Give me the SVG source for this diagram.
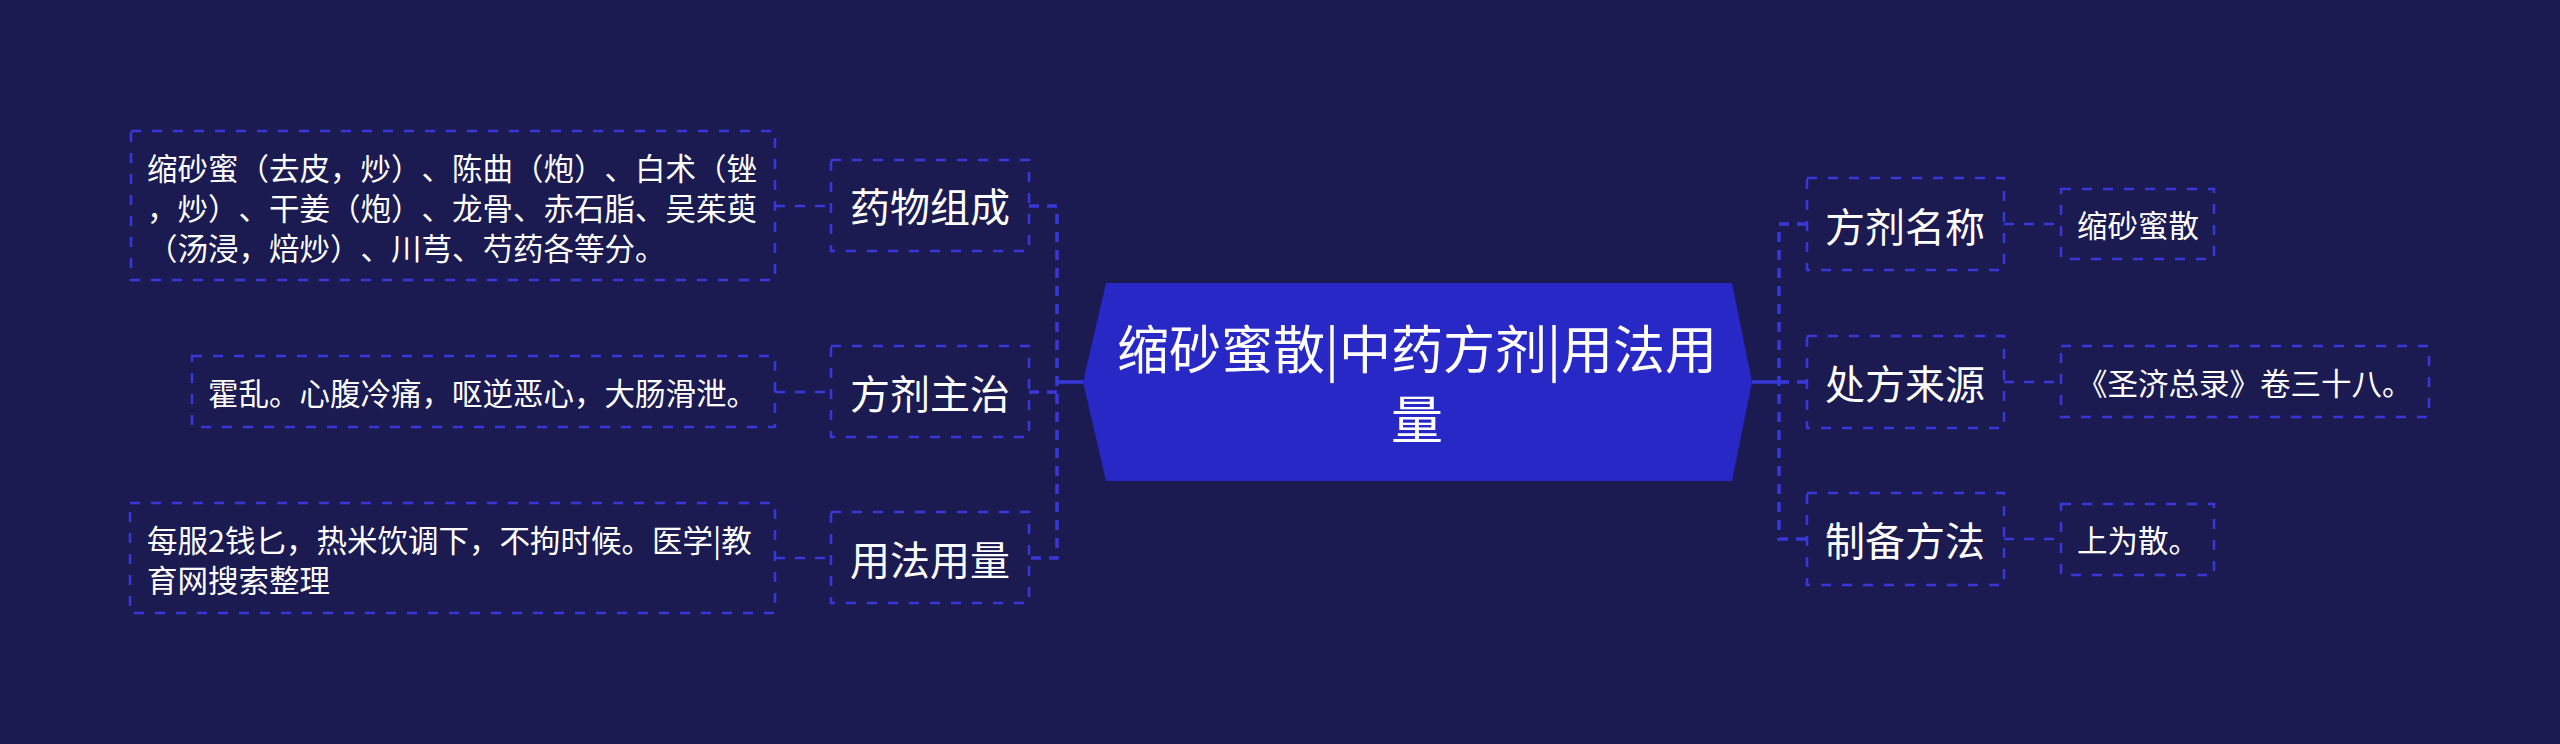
<svg xmlns="http://www.w3.org/2000/svg" width="2560" height="744" viewBox="0 0 2560 744">
<style>
.box{fill:none;stroke:#3838da;stroke-width:2.5;stroke-dasharray:10 11}
.t{fill:#ffffff;font-family:"Noto Sans CJK SC","Noto Sans",sans-serif;dominant-baseline:central;text-spacing-trim:space-all}
.leaf{font-size:30.5px}
.node{font-size:40px;text-anchor:middle}
.root{font-size:52px;text-anchor:middle}
.spine{fill:none;stroke:#3838da;stroke-width:3.5;stroke-dasharray:10 8}
.link{fill:none;stroke:#3838da;stroke-width:2.5;stroke-dasharray:10 10}
.solid{fill:none;stroke:#3838da;stroke-width:3.5}
</style>
<rect x="0" y="0" width="2560" height="744" fill="#1b1a51"/>
<g id="connectors">
<path class="solid" d="M1083,382 H1057"/>
<path class="solid" d="M1752,382 H1779"/>
<path class="spine" d="M1029,206 H1057 V558 H1029"/>
<path class="spine" d="M1057,392 H1029"/>
<path class="spine" d="M1807,224 H1779 V539 H1807"/>
<path class="spine" d="M1779,382 H1807"/>
<path class="link" d="M775,206 H831"/>
<path class="link" d="M775,392 H831"/>
<path class="link" d="M775,558 H831"/>
<path class="link" d="M2004,224 H2061"/>
<path class="link" d="M2004,382 H2061"/>
<path class="link" d="M2004,539 H2061"/>
</g>
<g id="root">
<polygon points="1106,283 1732,283 1752,382 1732,481 1106,481 1083,382" fill="#2828c6"/>
<text class="t root" x="1417" y="346">缩砂蜜散|中药方剂|用法用</text>
<text class="t root" x="1417" y="416">量</text>
</g>
<g id="n-yaowu">
<rect class="box" x="831" y="160" width="198" height="91"/>
<text class="t node" x="930" y="205">药物组成</text>
</g>
<g id="n-zhuzhi">
<rect class="box" x="831" y="346" width="198" height="91"/>
<text class="t node" x="930" y="392">方剂主治</text>
</g>
<g id="n-yongfa">
<rect class="box" x="831" y="512" width="198" height="91"/>
<text class="t node" x="930" y="558">用法用量</text>
</g>
<g id="n-mingcheng">
<rect class="box" x="1807" y="178" width="197" height="92"/>
<text class="t node" x="1905" y="225">方剂名称</text>
</g>
<g id="n-laiyuan">
<rect class="box" x="1807" y="336" width="197" height="92"/>
<text class="t node" x="1905" y="382">处方来源</text>
</g>
<g id="n-zhibei">
<rect class="box" x="1807" y="493" width="197" height="92"/>
<text class="t node" x="1905" y="539">制备方法</text>
</g>
<g id="l-yaowu">
<rect class="box" x="131" y="131" width="644" height="149"/>
<text class="t leaf" x="147" y="167">缩砂蜜（去皮，炒）、陈曲（炮）、白术（锉</text>
<text class="t leaf" x="147" y="207">，炒）、干姜（炮）、龙骨、赤石脂、吴茱萸</text>
<text class="t leaf" x="147" y="247">（汤浸，焙炒）、川芎、芍药各等分。</text>
</g>
<g id="l-zhuzhi">
<rect class="box" x="192" y="356" width="583" height="71"/>
<text class="t leaf" x="208" y="392">霍乱。心腹冷痛，呕逆恶心，大肠滑泄。</text>
</g>
<g id="l-yongfa">
<rect class="box" x="130" y="503" width="645" height="110"/>
<text class="t leaf" x="147" y="539">每服2钱匕，热米饮调下，不拘时候。医学|教</text>
<text class="t leaf" x="147" y="579">育网搜索整理</text>
</g>
<g id="l-mingcheng">
<rect class="box" x="2061" y="189" width="153" height="70"/>
<text class="t leaf" x="2077" y="224">缩砂蜜散</text>
</g>
<g id="l-laiyuan">
<rect class="box" x="2061" y="346" width="368" height="71"/>
<text class="t leaf" x="2077" y="382">《圣济总录》卷三十八。</text>
</g>
<g id="l-zhibei">
<rect class="box" x="2061" y="504" width="153" height="71"/>
<text class="t leaf" x="2077" y="539">上为散。</text>
</g>
</svg>
